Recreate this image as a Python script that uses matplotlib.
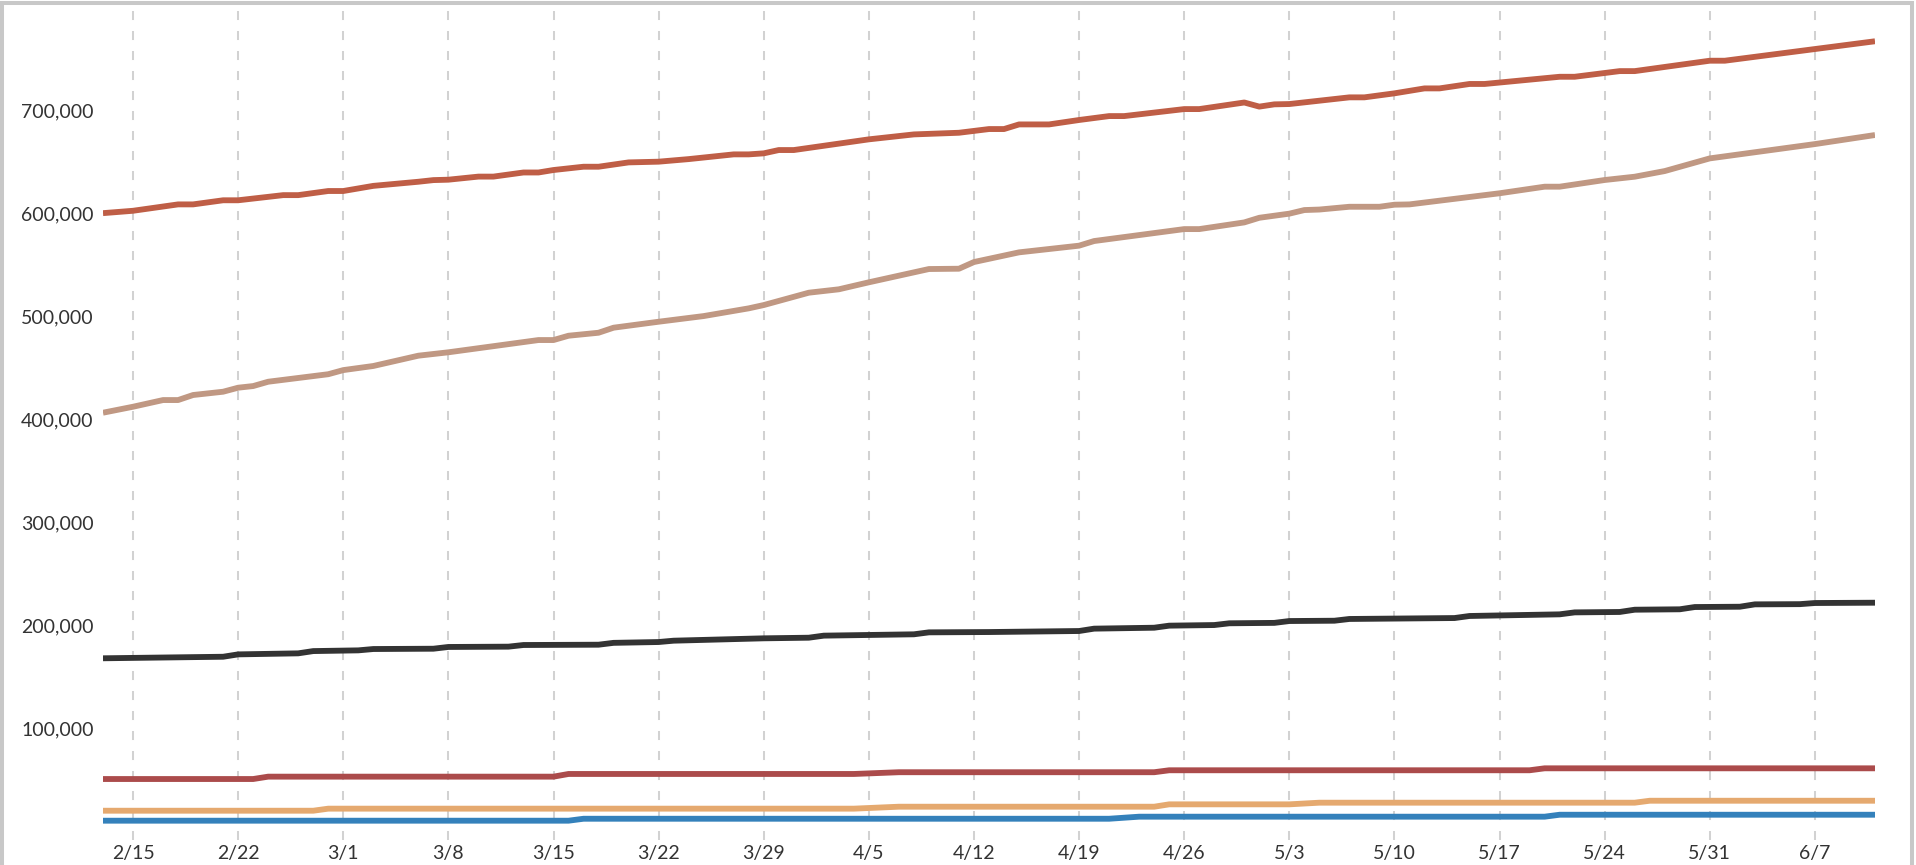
import matplotlib
matplotlib.use("Agg")
import matplotlib.pyplot as plt
import matplotlib.dates as mdates
from matplotlib.patches import Rectangle
from matplotlib.ticker import FuncFormatter
import pandas as pd

YEAR = 2021

# ---- data (values in thousands) ----
dates_a = ["2/13", "2/15", "2/18", "2/19", "2/21", "2/22", "2/25", "2/26", "2/28", "3/1",
           "3/3", "3/6", "3/7", "3/8", "3/10", "3/11", "3/13", "3/14", "3/15", "3/17",
           "3/18", "3/20", "3/22", "3/24", "3/27", "3/28", "3/29", "3/30", "3/31", "4/5",
           "4/8", "4/11", "4/13", "4/14", "4/15", "4/17", "4/19", "4/21", "4/22", "4/26",
           "4/27", "4/30", "5/1", "5/2", "5/3", "5/7", "5/8", "5/10", "5/12", "5/13",
           "5/15", "5/16", "5/21", "5/22", "5/25", "5/26", "5/31", "6/1", "6/11"]
values_a = [600.5, 602.8, 609, 609, 613, 613, 618, 618, 622, 622,
            627, 631, 632.6, 633, 636, 636, 640, 640, 642.4, 645.6,
            645.6, 649.8, 650.5, 653, 657.6, 657.6, 658.6, 661.8, 661.8, 672.2,
            677, 678.6, 682.2, 682.2, 686.7, 686.7, 691, 694.8, 694.8, 701.6,
            701.6, 708, 704, 706.2, 706.5, 713, 713, 716.9, 721.7, 721.7,
            726, 726, 733, 733, 738.5, 738.5, 748.6, 748.6, 767.5]

dates_b = ["2/13", "2/15", "2/17", "2/18", "2/19", "2/21", "2/22", "2/23", "2/24", "2/28",
           "3/1", "3/3", "3/6", "3/8", "3/14", "3/15", "3/16", "3/18", "3/19", "3/22",
           "3/25", "3/28", "3/29", "4/1", "4/3", "4/5", "4/9", "4/11", "4/12", "4/15",
           "4/19", "4/20", "4/26", "4/27", "4/30", "5/1", "5/3", "5/4", "5/5", "5/7",
           "5/9", "5/10", "5/11", "5/17", "5/20", "5/21", "5/24", "5/26", "5/28", "5/31",
           "6/7", "6/11"]
values_b = [406.6, 412.4, 418.9, 418.9, 423.8, 427, 430.9, 432.5, 436.7, 444,
            448, 452, 462, 465.3, 477.2, 477.2, 481.4, 484.3, 489.2, 495,
            500.5, 508, 511.2, 523.2, 526.5, 533.3, 546.2, 546.5, 553, 562.4,
            568.9, 573.4, 585, 585, 591.5, 596, 600, 603.5, 604, 606.7,
            606.7, 608.7, 609, 619.8, 626.2, 626.2, 632.7, 635.9, 641.4, 653.7,
            667.6, 676.4]

dates_c = ["2/13", "2/21", "2/22", "2/26", "2/27", "3/2", "3/3", "3/7", "3/8", "3/12",
           "3/13", "3/18", "3/19", "3/22", "3/23", "3/29", "4/1", "4/2", "4/8", "4/9",
           "4/13", "4/19", "4/20", "4/24", "4/25", "4/28", "4/29", "5/2", "5/3", "5/6",
           "5/7", "5/14", "5/15", "5/21", "5/22", "5/25", "5/26", "5/29", "5/30", "6/2",
           "6/3", "6/6", "6/7", "6/11"]
values_c = [168, 169.5, 171.8, 172.8, 175, 175.7, 177, 177.3, 179, 179.3,
            180.9, 181.2, 183, 183.8, 185.1, 187.4, 188, 190, 191.3, 193.2,
            193.5, 194.5, 196.8, 197.7, 199.7, 200.3, 202, 202.4, 204.2, 204.5,
            206.2, 207.1, 209.1, 210.7, 212.6, 213, 215.2, 215.6, 217.8, 218.1,
            220.4, 220.6, 221.7, 222]

dates_d = ["2/13", "2/23", "2/24", "3/15", "3/16", "4/4", "4/7", "4/24", "4/25", "5/19", "5/20", "6/11"]
values_d = [50.7, 50.7, 53, 53, 55.6, 55.6, 57.3, 57.3, 59.2, 59.2, 61.1, 61.1]

dates_e = ["2/13", "2/27", "2/28", "4/4", "4/7", "4/24", "4/25", "5/3", "5/5", "5/26", "5/27", "6/11"]
values_e = [19.9, 19.9, 21.9, 21.9, 23.8, 23.8, 26.1, 26.1, 27.7, 27.7, 29.6, 29.6]

dates_f = ["2/13", "3/16", "3/17", "4/21", "4/23", "5/20", "5/21", "6/11"]
values_f = [10.2, 10.2, 12.1, 12.1, 14.1, 14.1, 16, 16]

tick_dates = ["2/15", "2/22", "3/1", "3/8", "3/15", "3/22", "3/29", "4/5", "4/12",
              "4/19", "4/26", "5/3", "5/10", "5/17", "5/24", "5/31", "6/7"]
y_ticks = [100000, 200000, 300000, 400000, 500000, 600000, 700000]

series = [
    (dates_f, values_f, "#3481bb"),
    (dates_e, values_e, "#e5a96f"),
    (dates_d, values_d, "#ab4b4b"),
    (dates_c, values_c, "#333333"),
    (dates_b, values_b, "#c09883"),
    (dates_a, values_a, "#bf5e46"),
]


def to_dt(md_list):
    return pd.to_datetime([f"{YEAR}/{s}" for s in md_list], format="%Y/%m/%d")


plt.rcParams["font.family"] = ["Lato", "DejaVu Sans"]
plt.rcParams["lines.scale_dashes"] = False

W, H = 1916, 865
fig = plt.figure(figsize=(W / 100, H / 100), dpi=100)
fig.patch.set_facecolor("white")

left_px, right_px, top_px, bottom_px = 103, 1875, 11, 840
ax = fig.add_axes([left_px / W, (H - bottom_px) / H,
                   (right_px - left_px) / W, (bottom_px - top_px) / H])

for d, v, c in series:
    ax.plot(to_dt(d), [x * 1000 for x in v], color=c, lw=4.2,
            solid_capstyle="butt", solid_joinstyle="round", zorder=3)

ax.set_xlim(to_dt(["2/13"])[0], to_dt(["6/11"])[0])
ax.set_ylim(-8550, 796900)

tdt = to_dt(tick_dates)
for t in tdt:
    ax.axvline(t, ymin=1, ymax=0, color="#d2d2d2", lw=1.45,
               dashes=(6.5, 7.9), zorder=1)

ax.set_xticks(tdt)
ax.set_xticklabels(tick_dates)
ax.set_yticks(y_ticks)
ax.yaxis.set_major_formatter(FuncFormatter(lambda v, p: f"{int(v):,}"))

ax.tick_params(axis="x", length=0, pad=3.5, labelsize=14, labelcolor="#333333")
ax.tick_params(axis="y", length=0, pad=59, labelsize=14, labelcolor="#333333")
for lab in ax.get_yticklabels():
    lab.set_horizontalalignment("left")

for s in ax.spines.values():
    s.set_visible(False)
ax.set_facecolor("none")

# outer frame
fig.patches.append(Rectangle((2 / W, -0.1), (1912 - 2) / W, 1.1 - 3.4 / H,
                             transform=fig.transFigure, fill=False,
                             edgecolor="#c8c8c8", lw=2.9, zorder=10))

fig.savefig("out.png", dpi=100)
